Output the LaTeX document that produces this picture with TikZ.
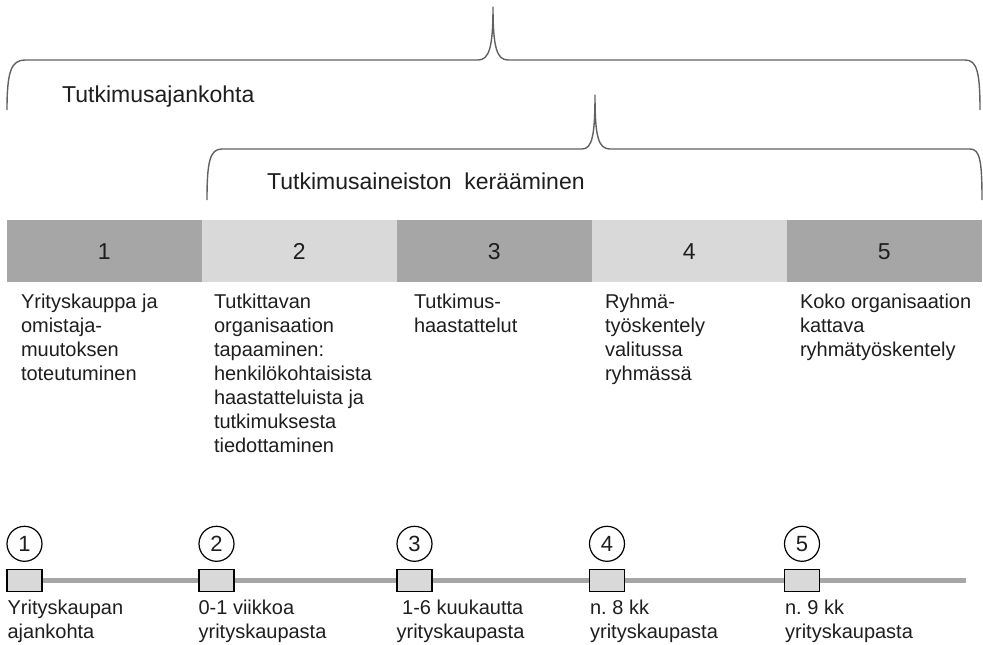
\documentclass[tikz,border=0pt]{standalone}
\usepackage{fontspec}
\setmainfont{Liberation Sans}
\usepackage{xcolor}
\usepackage{tikz}
\usetikzlibrary{positioning}
\frenchspacing

\definecolor{bardark}{HTML}{A6A6A6}
\definecolor{barlight}{HTML}{D9D9D9}
\definecolor{inkgray}{HTML}{1E1E1E}

\begin{document}
\begin{tikzpicture}[
  x=1pt, y=-1pt,
  font=\fontsize{20}{24}\selectfont,
  text=inkgray,
  darkbar/.style={
    rectangle, fill=bardark, inner sep=0pt,
    minimum width=194.6pt, minimum height=62pt,
    text height=16.5pt, text depth=0pt,
    font=\fontsize{23}{26}\selectfont
  },
  lightbar/.style={darkbar, fill=barlight},
  desc/.style={align=left, inner sep=0pt},
  stagebox/.style={
    rectangle, draw=black, line width=1.2pt, fill=barlight,
    minimum width=35pt, minimum height=22pt, inner sep=0pt
  },
  numcirc/.style={
    circle, draw=black, line width=1.2pt, minimum size=35pt,
    inner sep=0pt, font=\fontsize{22}{24}\selectfont
  },
  tline/.style={line width=5pt, color=bardark},
  curly/.style={line width=1.4pt, color=black!62, line join=round},
  heading/.style={anchor=base west, inner sep=0pt, font=\fontsize{23}{26}\selectfont}
]
\useasboundingbox (0,0) rectangle (983,645);

% braces
\draw[curly] (7,110) .. controls (7,72) and (11,60) .. (25,60) -- (478,60)
  .. controls (489,60) and (493,48) .. (493,7)
  .. controls (493,48) and (497,60) .. (508,60) -- (965,60)
  .. controls (977,60) and (980,72) .. (980,110);
\draw[curly] (207,200) .. controls (207,161) and (210,149) .. (222,149) -- (582,149)
  .. controls (592,149) and (595,136) .. (595,95)
  .. controls (595,136) and (598,149) .. (610,149) -- (970,149)
  .. controls (980,149) and (982,161) .. (982,200);

\node[heading] (aika) at (62,102) {Tutkimusajankohta};
\node[heading] (keruu) at (267,189) {Tutkimusaineiston\ \ kerääminen};

% phases
\node[darkbar] (b1) at (104.3,251) {1};
\node[lightbar, right=0pt of b1] (b2) {2};
\node[darkbar, right=0pt of b2] (b3) {3};
\node[lightbar, right=0pt of b3] (b4) {4};
\node[darkbar, right=0pt of b4] (b5) {5};

\node[desc, below right=12pt and 14pt of b1.south west] (d1) {%
  Yrityskauppa ja\\
  omistaja-\\
  muutoksen\\
  toteutuminen%
};
\node[desc, below right=12pt and 12pt of b2.south west] (d2) {%
  Tutkittavan\\
  organisaation\\
  tapaaminen:\\
  henkilökohtaisista\\
  haastatteluista ja\\
  tutkimuksesta\\
  tiedottaminen%
};
\node[desc, below right=12pt and 17pt of b3.south west] (d3) {%
  Tutkimus-\\
  haastattelut%
};
\node[desc, below right=12pt and 13pt of b4.south west] (d4) {%
  Ryhmä-\\
  työskentely\\
  valitussa\\
  ryhmässä%
};
\node[desc, below right=12pt and 13pt of b5.south west] (d5) {%
  Koko organisaation\\
  kattava\\
  ryhmätyöskentely%
};

% timeline
\node[stagebox] (s1) at (24.5,580.5) {};
\node[stagebox] (s2) at (216.5,580.5) {};
\node[stagebox] (s3) at (414.5,580.5) {};
\node[stagebox] (s4) at (607,580.5) {};
\node[stagebox] (s5) at (802,580.5) {};
\coordinate (tend) at (966,580.5);

\draw[tline] (s1) -- (s2);
\draw[tline] (s2) -- (s3);
\draw[tline] (s3) -- (s4);
\draw[tline] (s4) -- (s5);
\draw[tline] (s5) -- (tend);

\node[numcirc, above=7pt of s1] (c1) {1};
\node[numcirc, above=7pt of s2] (c2) {2};
\node[numcirc, above=7pt of s3] (c3) {3};
\node[numcirc, above=7pt of s4] (c4) {4};
\node[numcirc, above=7pt of s5] (c5) {5};

\node[desc, below right=8pt and 1pt of s1.south west] (w1) {Yrityskaupan\\ajankohta};
\node[desc, below right=8pt and 0pt of s2.south west] (w2) {0-1 viikkoa\\yrityskaupasta};
\node[desc, below right=8pt and 0pt of s3.south west] (w3) {\ 1-6 kuukautta\\yrityskaupasta};
\node[desc, below right=8pt and 1pt of s4.south west] (w4) {n. 8 kk\\yrityskaupasta};
\node[desc, below right=8pt and 1pt of s5.south west] (w5) {n. 9 kk\\yrityskaupasta};
\end{tikzpicture}
\end{document}
